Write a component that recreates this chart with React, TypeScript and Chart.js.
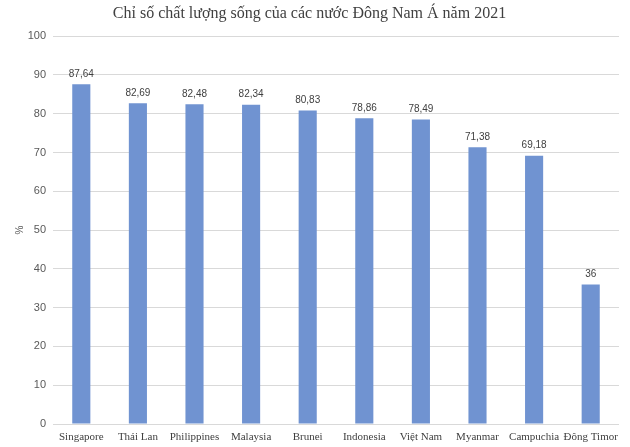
import React, { useEffect, useRef } from "react";
import { Chart, registerables } from "chart.js";

Chart.register(...registerables);

const categories = ["Singapore", "Thái Lan", "Philippines", "Malaysia", "Brunei", "Indonesia", "Việt Nam", "Myanmar", "Campuchia", "Đông Timor"];
const values = [87.64, 82.69, 82.48, 82.34, 80.83, 78.86, 78.49, 71.38, 69.18, 36];
const titleText = "Chỉ số chất lượng sống của các nước Đông Nam Á năm 2021";
const yTitle = "%";

const fmt = (v: number) => String(v).replace(".", ",");

const labelPlugin = {
  id: "valueLabels",
  afterDatasetsDraw(chart: any) {
    const ctx = chart.ctx;
    const meta = chart.getDatasetMeta(0);
    ctx.save();
    ctx.font = "10px 'Liberation Sans', Arial, sans-serif";
    ctx.fillStyle = "#404040";
    ctx.textAlign = "center";
    ctx.textBaseline = "middle";
    meta.data.forEach((el: any, i: number) => {
      ctx.fillText(fmt(values[i]), el.x, el.y - 10);
    });
    ctx.restore();
  },
};

export default function App() {
  const ref = useRef<HTMLCanvasElement | null>(null);
  useEffect(() => {
    document.body.style.margin = "0";
    const chart = new Chart(ref.current!, {
      type: "bar",
      data: {
        labels: categories,
        datasets: [
          {
            data: values,
            backgroundColor: "#7093d1",
            categoryPercentage: 1,
            barPercentage: 0.32,
          },
        ],
      },
      options: {
        animation: false,
        responsive: false,
        maintainAspectRatio: false,
        layout: { padding: { left: 0, right: 11, top: 0, bottom: 0 } },
        plugins: {
          legend: { display: false },
          tooltip: { enabled: false },
          title: {
            display: true,
            text: titleText,
            color: "#404040",
            font: { family: "'Liberation Serif', 'Times New Roman', serif", size: 16, weight: "normal" },
            padding: { top: 4, bottom: 13 },
          },
        },
        scales: {
          x: {
            grid: { display: false, drawTicks: false },
            border: { display: false },
            ticks: {
              color: "#404040",
              font: { family: "'Liberation Serif', 'Times New Roman', serif", size: 11 },
              padding: 7,
              maxRotation: 0,
              autoSkip: false,
            },
            afterFit: (s: any) => {
              s.height = 23;
            },
          },
          y: {
            min: 0,
            max: 100,
            grid: { color: "#d9d9d9", drawTicks: false },
            border: { display: false },
            ticks: {
              stepSize: 10,
              color: "#595959",
              font: { family: "'Liberation Sans', Arial, sans-serif", size: 11 },
              padding: 7,
            },
            title: {
              display: true,
              text: yTitle,
              color: "#595959",
              font: { family: "'Liberation Sans', Arial, sans-serif", size: 10 },
              padding: { top: 14, bottom: 0 },
            },
            afterFit: (s: any) => {
              s.width = 53;
            },
          },
        },
      },
      plugins: [labelPlugin],
    });
    return () => chart.destroy();
  }, []);
  return (
    <div style={{ position: "absolute", left: 0, top: 0, width: 630, height: 447, background: "#fff" }}>
      <canvas ref={ref} width={630} height={447} style={{ width: 630, height: 447 }} />
    </div>
  );
}
